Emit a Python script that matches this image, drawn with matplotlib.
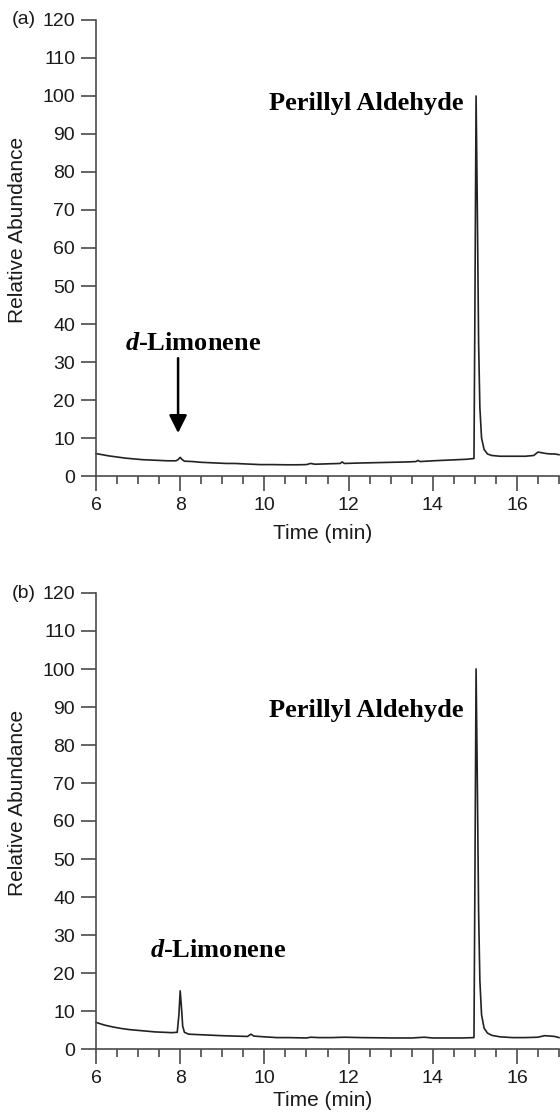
import matplotlib
matplotlib.use("Agg")
import matplotlib.pyplot as plt
from matplotlib.ticker import MultipleLocator

plt.rcParams['font.family'] = ['Liberation Sans', 'DejaVu Sans']
plt.rcParams['mathtext.fontset'] = 'custom'
plt.rcParams['mathtext.it'] = 'Liberation Serif:italic:bold'
plt.rcParams['mathtext.rm'] = 'Liberation Serif:bold'

# ---- data ----
time_a = [6.00, 6.15, 6.30, 6.50, 6.70, 6.90, 7.10, 7.30, 7.50, 7.70, 7.90, 7.95, 8.00, 8.04,
          8.10, 8.30, 8.50, 8.70, 8.90, 9.10, 9.30, 9.50, 9.70, 9.90, 10.2, 10.5, 10.8, 11.0,
          11.1, 11.2, 11.5, 11.8, 11.85, 11.9, 12.2, 12.6, 13.0, 13.4, 13.6, 13.65, 13.7, 14.0,
          14.4, 14.8, 14.98, 15.00, 15.03, 15.06, 15.09, 15.12, 15.16, 15.22, 15.30, 15.40,
          15.60, 15.90, 16.20, 16.40, 16.50, 16.60, 16.70, 16.80, 16.90, 17.00]
abund_a = [5.9, 5.6, 5.3, 5.0, 4.7, 4.5, 4.3, 4.2, 4.1, 4.0, 4.0, 4.3, 4.9, 4.4,
           3.9, 3.8, 3.6, 3.5, 3.4, 3.3, 3.3, 3.2, 3.1, 3.0, 3.0, 2.95, 2.95, 3.0,
           3.3, 3.1, 3.2, 3.3, 3.7, 3.3, 3.4, 3.5, 3.6, 3.7, 3.8, 4.1, 3.8, 4.0,
           4.2, 4.4, 4.6, 40, 100, 70, 35, 18, 10, 7.0, 5.8, 5.4,
           5.2, 5.2, 5.2, 5.4, 6.3, 6.1, 5.9, 5.8, 5.8, 5.6]

time_b = [6.00, 6.20, 6.40, 6.60, 6.80, 7.00, 7.20, 7.40, 7.60, 7.80, 7.93, 7.97, 8.00, 8.03,
          8.06, 8.10, 8.20, 8.40, 8.60, 8.80, 9.00, 9.30, 9.60, 9.68, 9.75, 10.0, 10.3, 10.6,
          11.0, 11.1, 11.3, 11.6, 11.9, 12.3, 12.7, 13.1, 13.5, 13.8, 14.0, 14.4, 14.7, 14.98,
          15.00, 15.03, 15.06, 15.09, 15.12, 15.16, 15.22, 15.30, 15.40, 15.60, 15.90, 16.20,
          16.50, 16.65, 16.80, 16.90, 17.00]
abund_b = [7.0, 6.3, 5.8, 5.4, 5.1, 4.9, 4.7, 4.5, 4.4, 4.3, 4.4, 9.0, 15.3, 11.0,
           6.0, 4.4, 3.9, 3.8, 3.7, 3.6, 3.5, 3.4, 3.3, 3.9, 3.4, 3.2, 3.0, 3.0,
           2.9, 3.1, 3.0, 3.0, 3.1, 3.0, 2.95, 2.9, 2.9, 3.1, 2.9, 2.9, 2.9, 3.0,
           40, 100, 70, 36, 18, 9.0, 5.5, 4.2, 3.6, 3.2, 3.0, 3.0,
           3.1, 3.5, 3.4, 3.3, 3.0]

panel_labels = ['(a)', '(b)']
x_ticks = [6, 8, 10, 12, 14, 16]
y_ticks = list(range(0, 121, 10))

W, H = 560, 1114
fig = plt.figure(figsize=(W / 100, H / 100), dpi=100)

spine_col = '#4a4a4a'
tick_fs = 14
label_fs = 15
ann_fs = 19


def make_axes(top_px, bottom_px, xlab_y):
    left = 96 / W
    right = 559 / W
    ax = fig.add_axes([left, 1 - bottom_px / H, right - left, (bottom_px - top_px) / H])
    ax.set_xlim(6, 17)
    ax.set_ylim(0, 120)
    for s in ['top', 'right']:
        ax.spines[s].set_visible(False)
    for s in ['left', 'bottom']:
        ax.spines[s].set_color(spine_col)
        ax.spines[s].set_linewidth(1.2)
    ax.set_xticks(x_ticks)
    ax.set_yticks(y_ticks)
    ax.xaxis.set_minor_locator(MultipleLocator(0.5))
    ax.tick_params(axis='both', which='major', direction='out', length=11, width=1.2,
                   color=spine_col, labelsize=tick_fs, labelcolor='#1a1a1a', pad=4)
    ax.tick_params(axis='x', which='minor', direction='out', length=6, width=1.2, color=spine_col)
    ax.set_xlabel('Time (min)', fontsize=label_fs, color='#1a1a1a')
    ax.xaxis.set_label_coords(0.49, xlab_y)
    ax.set_ylabel('Relative Abundance', fontsize=label_fs, color='#1a1a1a')
    ax.yaxis.set_label_coords(-0.15, 0.54)
    return ax


ax_a = make_axes(20, 476, -0.105)
ax_b = make_axes(593, 1049, -0.093)

ax_a.plot(time_a, abund_a, color='#222222', lw=1.2, clip_on=False)
ax_b.plot(time_b, abund_b, color='#222222', lw=1.2, clip_on=False)

fig.text(12 / W, 1 - 20 / H, panel_labels[0], fontsize=tick_fs, va='center', ha='left', color='#1a1a1a')
fig.text(12 / W, 1 - 593 / H, panel_labels[1], fontsize=tick_fs, va='center', ha='left', color='#1a1a1a')

serif = ['Liberation Serif', 'DejaVu Serif']
ax_a.text(14.72, 98, 'Perillyl Aldehyde', family=serif, weight='bold', fontsize=ann_fs,
          ha='right', va='center')
ax_b.text(14.72, 89, 'Perillyl Aldehyde', family=serif, weight='bold', fontsize=ann_fs,
          ha='right', va='center')

ax_a.text(6.69, 35, r'$d$-Limonene', family=serif, weight='bold', fontsize=ann_fs,
          ha='left', va='center')
ax_b.text(7.28, 25.8, r'$d$-Limonene', family=serif, weight='bold', fontsize=ann_fs,
          ha='left', va='center')

ax_a.annotate('', xy=(7.95, 11.3), xytext=(7.95, 31),
              arrowprops=dict(arrowstyle='-|>', mutation_scale=27, lw=1.8, color='black',
                              shrinkA=0, shrinkB=0))

fig.savefig('out.png', dpi=100)
